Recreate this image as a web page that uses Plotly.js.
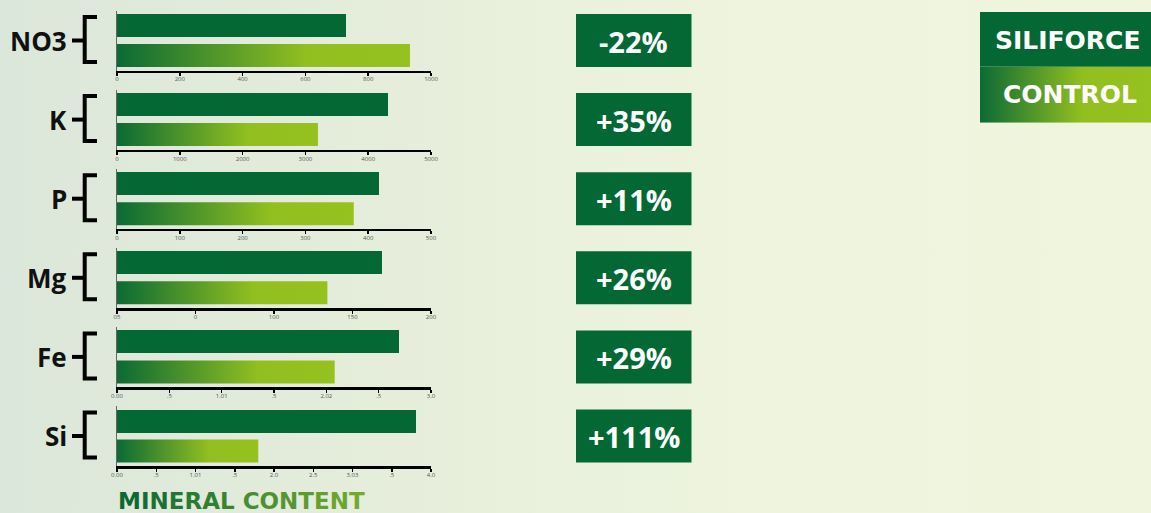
<!DOCTYPE html>
<html>
<head>
<meta charset="utf-8">
<script src="https://cdn.plot.ly/plotly-3.0.1.min.js"></script>
<style>
  html, body { margin:0; padding:0; }
  body { width:1151px; height:513px; overflow:hidden;
         background: linear-gradient(to right, #dbe7da 0%, #e6eedb 35%, #eef4de 65%, #f0f5dd 100%); }
  #chart { width:1151px; height:513px; }
</style>
</head>
<body>
<div id="chart"></div>
<script>
// ---------------- DATA ----------------
const minerals      = ["NO3", "K", "P", "Mg", "Fe", "Si"];
const siliforceVals = [729, 4315, 417, 169, 2.69, 3.81];
const controlVals   = [933, 3200, 377, 134, 2.08, 1.80];
const changeLabels  = ["-22%", "+35%", "+11%", "+26%", "+29%", "+111%"];
const axisMax       = [1000, 5000, 500, 200, 3, 4];
const tickVals = [
  [0, 200, 400, 600, 800, 1000],
  [0, 1000, 2000, 3000, 4000, 5000],
  [0, 100, 200, 300, 400, 500],
  [0, 50, 100, 150, 200],
  [0, 0.5, 1, 1.5, 2, 2.5, 3],
  [0, 0.5, 1, 1.5, 2, 2.5, 3, 3.5, 4]
];
const tickTexts = [
  ["0", "200", "400", "600", "800", "1000"],
  ["0", "1000", "2000", "3000", "4000", "5000"],
  ["0", "100", "200", "300", "400", "500"],
  ["05", "0", "100", "150", "200"],
  ["0.00", ".5", "1.01", ".5", "2.02", ".5", "3.0"],
  ["0.00", ".5", "1.01", ".5", "2.0", "2.5", "3.03", ".5", "4.0"]
];
const legendNames = ["SILIFORCE", "CONTROL"];
const footerTitle = "MINERAL CONTENT";

// ---------------- STYLE ----------------
const W = 1151, H = 513;
const DARK = "#046835";
const gradScale = [[0, "#0b6a35"], [0.65, "#92bf20"], [1, "#96c21f"]];
const px = x => x / W;
const py = y => 1 - y / H;

const xL = 117, xR = 431;
const axisY0 = 70.7, step = 79.1;
const panelH = 60;
const unitPx = 30;
const barW = 0.767;

const traces = [];
const layout = {
  width: W, height: H, autosize: false,
  margin: {l: 0, r: 0, t: 0, b: 0},
  paper_bgcolor: "rgba(0,0,0,0)",
  plot_bgcolor: "rgba(0,0,0,0)",
  showlegend: false,
  hovermode: false,
  bargap: 0,
  shapes: [],
  annotations: []
};

minerals.forEach((m, i) => {
  const n = i + 1;
  const xa = "x" + (n === 1 ? "" : n), ya = "y" + (n === 1 ? "" : n);
  const bottom = axisY0 + step * i;
  const top = bottom - panelH;
  const yLow = -15.2 / unitPx;
  layout["xaxis" + (n === 1 ? "" : n)] = {
    domain: [px(xL), px(xR)], anchor: ya, range: [0, axisMax[i]],
    fixedrange: true, showgrid: false, zeroline: false,
    showline: true, linecolor: "#000", linewidth: 2.5,
    ticks: "outside", ticklen: 3, tickwidth: 1.5, tickcolor: "#000",
    ticklabelstandoff: -2,
    tickmode: "array", tickvals: tickVals[i], ticktext: tickTexts[i],
    tickfont: {family: "Open Sans, sans-serif", size: 6, color: "#555"}
  };
  layout["yaxis" + (n === 1 ? "" : n)] = {
    domain: [py(bottom), py(top)], anchor: xa, range: [yLow, yLow + panelH / unitPx],
    fixedrange: true, showgrid: false, zeroline: false,
    showline: true, linecolor: "#666", linewidth: 1,
    showticklabels: false, ticks: ""
  };
  traces.push({
    type: "bar", orientation: "h", x: [siliforceVals[i]], y: [1], width: barW,
    xaxis: xa, yaxis: ya, marker: {color: DARK, line: {width: 0}}
  });
  const v = controlVals[i];
  traces.push({
    type: "scatter", mode: "none", fill: "toself",
    x: [0, v, v, 0, 0], y: [-barW / 2, -barW / 2, barW / 2, barW / 2, -barW / 2],
    xaxis: xa, yaxis: ya,
    fillgradient: {type: "horizontal", colorscale: gradScale}
  });

  const mid = bottom - 30.2;
  layout.annotations.push({
    xref: "paper", yref: "paper", x: px(69), y: py(mid), xanchor: "right", yanchor: "middle",
    text: "<b>" + m + "</b>", showarrow: false,
    font: {family: "Open Sans, sans-serif", size: 26, color: "#111"}
  });
  const bt = bottom - 53.7, bb = bottom - 8.7;
  layout.shapes.push({
    type: "path", xref: "paper", yref: "paper",
    path: `M${px(97)},${py(bt)} L${px(84.7)},${py(bt)} L${px(84.7)},${py(bb)} L${px(97)},${py(bb)}`,
    line: {color: "#000", width: 4}
  });
  layout.shapes.push({
    type: "line", xref: "paper", yref: "paper",
    x0: px(72), x1: px(84), y0: py(mid), y1: py(mid),
    line: {color: "#000", width: 4}
  });
  layout.shapes.push({
    type: "rect", xref: "paper", yref: "paper",
    x0: px(576), x1: px(691.5), y0: py(bottom - 3.7), y1: py(bottom - 56.7),
    fillcolor: DARK, line: {width: 0}
  });
  layout.annotations.push({
    xref: "paper", yref: "paper", x: px(633.7), y: py(bottom - 29.7), xanchor: "center", yanchor: "middle",
    text: "<b>" + changeLabels[i] + "</b>", showarrow: false,
    font: {family: "Open Sans, sans-serif", size: 29, color: "#fff"}
  });
});

layout.shapes.push({
  type: "rect", xref: "paper", yref: "paper",
  x0: px(980), x1: 1, y0: py(66.7), y1: py(12),
  fillcolor: DARK, line: {width: 0}
});
layout.xaxis7 = {domain: [px(980), 1], anchor: "y7", range: [0, 1], visible: false, fixedrange: true};
layout.yaxis7 = {domain: [py(122.7), py(66.7)], anchor: "x7", range: [0, 1], visible: false, fixedrange: true};
traces.push({
  type: "scatter", mode: "none", fill: "toself",
  x: [0, 1, 1, 0, 0], y: [0, 0, 1, 1, 0], xaxis: "x7", yaxis: "y7",
  fillgradient: {type: "horizontal", colorscale: [[0, "#0b6a35"], [0.6, "#92bf20"], [1, "#96c21f"]]}
});
layout.annotations.push({
  xref: "paper", yref: "paper", x: px(1067.5), y: py(40), xanchor: "center", yanchor: "middle",
  text: "<b>" + legendNames[0] + "</b>", showarrow: false,
  font: {family: "DejaVu Sans, sans-serif", size: 25, color: "#fff"}
});
layout.annotations.push({
  xref: "paper", yref: "paper", x: px(1069.5), y: py(95), xanchor: "center", yanchor: "middle",
  text: "<b>" + legendNames[1] + "</b>", showarrow: false,
  font: {family: "DejaVu Sans, sans-serif", size: 25, color: "#fff"}
});

function lerpColor(a, b, t) {
  const pa = [1, 3, 5].map(k => parseInt(a.substr(k, 2), 16));
  const pb = [1, 3, 5].map(k => parseInt(b.substr(k, 2), 16));
  return "rgb(" + pa.map((c, j) => Math.round(c + (pb[j] - c) * t)).join(",") + ")";
}
const letters = footerTitle.split("");
const footerHtml = letters.map((ch, k) =>
  `<span style="color:${lerpColor("#0d6834", "#72a92e", k / (letters.length - 1))}">${ch === " " ? "&nbsp;" : ch}</span>`
).join("");
layout.annotations.push({
  xref: "paper", yref: "paper", x: px(116), y: py(501), xanchor: "left", yanchor: "middle",
  text: "<b>" + footerHtml + "</b>", showarrow: false,
  font: {family: "DejaVu Sans, sans-serif", size: 23, color: "#0d6834"}
});

Plotly.newPlot("chart", traces, layout, {staticPlot: true, displayModeBar: false});
</script>
</body>
</html>
